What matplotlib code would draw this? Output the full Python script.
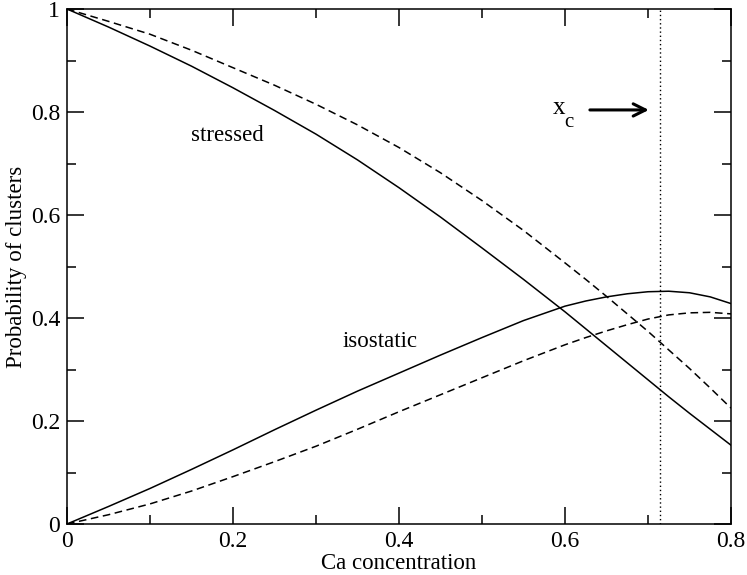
import matplotlib
matplotlib.use("Agg")
import matplotlib.pyplot as plt

plt.rcParams['font.family'] = ['Liberation Serif', 'DejaVu Serif']

# data
x = [0.0, 0.05, 0.1, 0.15, 0.2, 0.25, 0.3, 0.35, 0.4, 0.45, 0.5, 0.55, 0.6,
     0.625, 0.65, 0.675, 0.7, 0.725, 0.75, 0.775, 0.8]
stressed_solid = [1.0, 0.965, 0.928, 0.889, 0.847, 0.803, 0.757, 0.707, 0.653, 0.596, 0.536, 0.475, 0.412,
                  0.379, 0.346, 0.313, 0.280, 0.247, 0.215, 0.184, 0.153]
stressed_dashed = [1.0, 0.976, 0.951, 0.920, 0.886, 0.852, 0.815, 0.775, 0.731, 0.682, 0.628, 0.570, 0.507,
                   0.475, 0.442, 0.408, 0.374, 0.338, 0.302, 0.264, 0.225]
iso_solid = [0.0, 0.034, 0.069, 0.106, 0.144, 0.183, 0.221, 0.258, 0.293, 0.328, 0.362, 0.395, 0.423,
             0.433, 0.441, 0.447, 0.451, 0.452, 0.449, 0.441, 0.428]
iso_dashed = [0.0, 0.018, 0.039, 0.064, 0.092, 0.121, 0.151, 0.184, 0.218, 0.251, 0.284, 0.317, 0.348,
              0.362, 0.375, 0.387, 0.398, 0.406, 0.410, 0.411, 0.408]
x_c = 0.715

xticks = [0, 0.2, 0.4, 0.6, 0.8]
xticklabels = ['0', '0.2', '0.4', '0.6', '0.8']
yticks = [0, 0.2, 0.4, 0.6, 0.8, 1.0]
yticklabels = ['0', '0.2', '0.4', '0.6', '0.8', '1']

fig = plt.figure(figsize=(7.47, 5.75), dpi=100)
ax = fig.add_axes([67/747, 51/575, 664/747, 515/575])

lw = 1.1
ax.plot(x, stressed_solid, color='black', lw=lw)
ax.plot(x, stressed_dashed, color='black', lw=lw, linestyle=(0, (5, 3)))
ax.plot(x, iso_solid, color='black', lw=lw)
ax.plot(x, iso_dashed, color='black', lw=lw, linestyle=(0, (5, 3)))
ax.axvline(x_c, color='black', lw=1.0, linestyle=(0, (1, 2)))

ax.set_xlim(0, 0.8)
ax.set_ylim(0, 1)
ax.set_xticks(xticks)
ax.set_xticklabels(xticklabels)
ax.set_yticks(yticks)
ax.set_yticklabels(yticklabels)
ax.set_xticks([0.1, 0.3, 0.5, 0.7], minor=True)
ax.set_yticks([0.1, 0.3, 0.5, 0.7, 0.9], minor=True)
ax.tick_params(which='both', direction='in', top=True, right=True, width=1.1, labelsize=17, colors='black')
ax.tick_params(which='major', length=12, pad=5)
ax.tick_params(which='minor', length=6.5)
for s in ax.spines.values():
    s.set_linewidth(1.1)

ax.set_xlabel('Ca concentration', fontsize=16.5, labelpad=1)
ax.set_ylabel('Probability of clusters', fontsize=16.5, labelpad=3)

ax.text(0.193, 0.755, 'stressed', fontsize=16.5, ha='center', va='center')
ax.text(0.377, 0.355, 'isostatic', fontsize=16.5, ha='center', va='center')
ax.text(0.593, 0.808, 'x', fontsize=18, ha='center', va='center')
ax.text(0.605, 0.78, 'c', fontsize=15, ha='center', va='center')
ax.annotate('', xy=(0.701, 0.804), xytext=(0.630, 0.804),
            arrowprops=dict(arrowstyle='->', lw=2.2, color='black', mutation_scale=22,
                            shrinkA=0, shrinkB=0))

fig.savefig('out.png', dpi=100)
